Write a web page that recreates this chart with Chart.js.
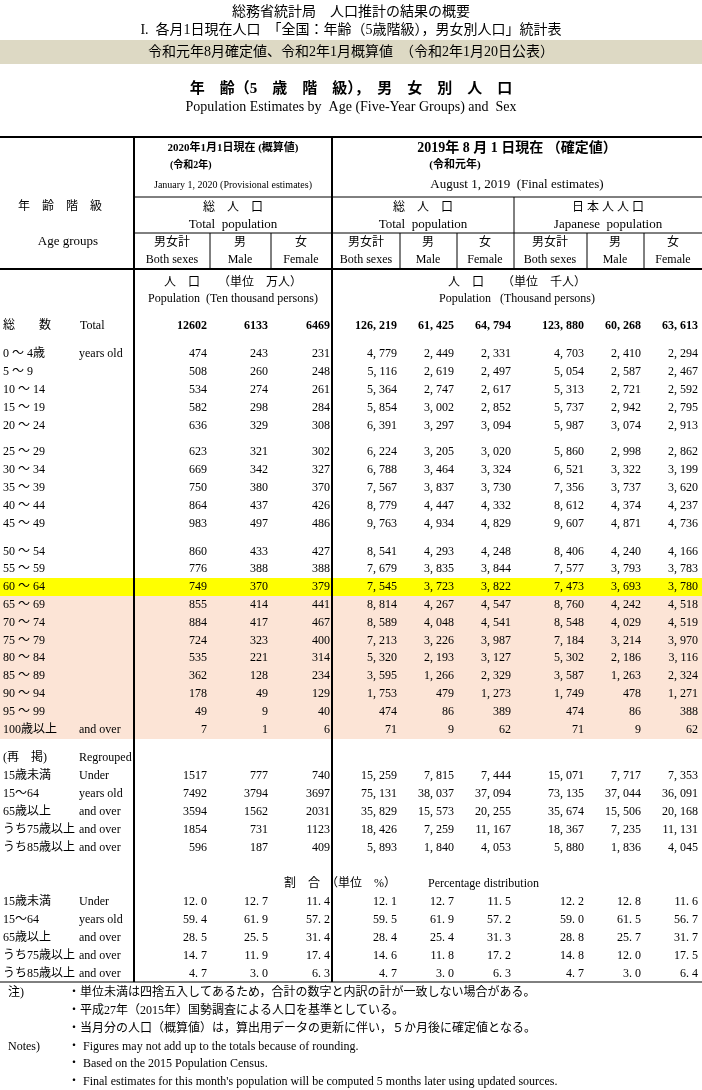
<!DOCTYPE html>
<html><head><meta charset="utf-8">
<script src="https://cdn.jsdelivr.net/npm/chart.js@4/dist/chart.umd.min.js"></script>
<style>html,body{margin:0;padding:0;background:#fff}canvas{display:block}</style>
</head><body><canvas id="c" width="702" height="1090"></canvas>
<script>
// ---- data ----
const rowLabelsJa = ["総　　数","0 ～ 4歳","5 ～ 9","10 ～ 14","15 ～ 19","20 ～ 24","25 ～ 29","30 ～ 34","35 ～ 39","40 ～ 44","45 ～ 49","50 ～ 54","55 ～ 59","60 ～ 64","65 ～ 69","70 ～ 74","75 ～ 79","80 ～ 84","85 ～ 89","90 ～ 94","95 ～ 99","100歳以上","15歳未満","15～64","65歳以上","うち75歳以上","うち85歳以上"];
const rowLabelsEn = ["Total","years old","","","","","","","","","","","","","","","","","","","","and over","Under","years old","and over","and over","and over"];
const p2020Both   = [12602,474,508,534,582,636,623,669,750,864,983,860,776,749,855,884,724,535,362,178,49,7,1517,7492,3594,1854,596];
const p2020Male   = [6133,243,260,274,298,329,321,342,380,437,497,433,388,370,414,417,323,221,128,49,9,1,777,3794,1562,731,187];
const p2020Female = [6469,231,248,261,284,308,302,327,370,426,486,427,388,379,441,467,400,314,234,129,40,6,740,3697,2031,1123,409];
const t2019Both   = [126219,4779,5116,5364,5854,6391,6224,6788,7567,8779,9763,8541,7679,7545,8814,8589,7213,5320,3595,1753,474,71,15259,75131,35829,18426,5893];
const t2019Male   = [61425,2449,2619,2747,3002,3297,3205,3464,3837,4447,4934,4293,3835,3723,4267,4048,3226,2193,1266,479,86,9,7815,38037,15573,7259,1840];
const t2019Female = [64794,2331,2497,2617,2852,3094,3020,3324,3730,4332,4829,4248,3844,3822,4547,4541,3987,3127,2329,1273,389,62,7444,37094,20255,11167,4053];
const j2019Both   = [123880,4703,5054,5313,5737,5987,5860,6521,7356,8612,9607,8406,7577,7473,8760,8548,7184,5302,3587,1749,474,71,15071,73135,35674,18367,5880];
const j2019Male   = [60268,2410,2587,2721,2942,3074,2998,3322,3737,4374,4871,4240,3793,3693,4242,4029,3214,2186,1263,478,86,9,7717,37044,15506,7235,1836];
const j2019Female = [63613,2294,2467,2592,2795,2913,2862,3199,3620,4237,4736,4166,3783,3780,4518,4519,3970,3116,2324,1271,388,62,7353,36091,20168,11131,4045];
const pctLabelsJa = ["15歳未満","15～64","65歳以上","うち75歳以上","うち85歳以上"];
const pctLabelsEn = ["Under","years old","and over","and over","and over"];
const pct2020Both=[12.0,59.4,28.5,14.7,4.7], pct2020Male=[12.7,61.9,25.5,11.9,3.0], pct2020Female=[11.4,57.2,31.4,17.4,6.3];
const pctT19Both=[12.1,59.5,28.4,14.6,4.7], pctT19Male=[12.7,61.9,25.4,11.8,3.0], pctT19Female=[11.5,57.2,31.3,17.2,6.3];
const pctJ19Both=[12.2,59.0,28.8,14.8,4.7], pctJ19Male=[12.8,61.5,25.7,12.0,3.0], pctJ19Female=[11.6,56.7,31.7,17.5,6.4];

// ---- layout ----
const colRight=[207,268,330,397,454,511,584,641,698];
const rowY=[326,354,372,390,408,426,452,470,488,506,524,552,569,587,605,623,641,658,676,694,712,730,776,794,812,830,848];
const pctY=[902,920,938,956,974];
const cols=[p2020Both,p2020Male,p2020Female,t2019Both,t2019Male,t2019Female,j2019Both,j2019Male,j2019Female];
const pcols=[pct2020Both,pct2020Male,pct2020Female,pctT19Both,pctT19Male,pctT19Female,pctJ19Both,pctJ19Male,pctJ19Female];
const fmt=(v,ci)=>ci<3?String(v):v.toLocaleString('en-US').replace(/,/g,', ');
const SERIF='"Liberation Serif","Noto Sans CJK JP",serif';

const datasets=cols.map((arr,ci)=>({data:arr.map((v,ri)=>({x:colRight[ci],y:rowY[ri],v:fmt(v,ci),b:ri===0})),pointRadius:0}))
 .concat(pcols.map((arr,ci)=>({data:arr.map((v,ri)=>({x:colRight[ci],y:pctY[ri],v:v.toFixed(1).replace('.','. ')})),pointRadius:0})));

const tablePlugin={id:'table',
 beforeDatasetsDraw(ch){
  const c=ch.ctx,X=ch.scales.x,Y=ch.scales.y;
  const px=v=>X.getPixelForValue(v),py=v=>Y.getPixelForValue(v);
  const rect=(x0,y0,x1,y1,col)=>{c.fillStyle=col;c.fillRect(px(x0),py(y0),px(x1)-px(x0),py(y1)-py(y0));};
  rect(0,40,702,64,'#ddd9c4');
  rect(0,578,702,596,'#ffff00');
  rect(0,596,702,739,'#fce4d6');
 },
 afterDatasetsDraw(ch){
  const c=ch.ctx,X=ch.scales.x,Y=ch.scales.y;
  const px=v=>X.getPixelForValue(v),py=v=>Y.getPixelForValue(v);
  const t=(s,x,y,size,align,bold,font)=>{c.fillStyle='#000';c.font=(bold?'bold ':'')+size+'px '+(font||SERIF);c.textAlign=align||'left';c.textBaseline='middle';c.fillText(s,px(x),py(y));};
  const line=(x0,y0,x1,y1,w)=>{c.strokeStyle='#000';c.lineWidth=w;c.beginPath();c.moveTo(px(x0),py(y0));c.lineTo(px(x1),py(y1));c.stroke();};
  line(0,137,702,137,2); line(0,269,702,269,2);
  line(134,137,134,982,2); line(332,137,332,982,2);
  line(134,197,702,197,1); line(134,233,702,233,1);
  line(514,197,514,269,1);
  [210,271,400,457,587,644].forEach(x=>line(x,233,x,269,1));
  line(0,982,702,982,1);
  // titles
  t('総務省統計局　人口推計の結果の概要',351,12,14,'center');
  t('I.  各月1日現在人口　「全国：年齢（5歳階級），男女別人口」統計表',351,30,14,'center');
  t('令和元年8月確定値、令和2年1月概算値　（令和2年1月20日公表）',351,52,14,'center');
  t('年　齢（5　歳　階　級），　男　女　別　人　口',351,89,15,'center',true);
  t('Population Estimates by  Age (Five-Year Groups) and  Sex',351,107,14,'center');
  t('2020年1月1日現在 (概算値)',233,148,11,'center',true);
  t('(令和2年)',170,165,10,'left',true);
  t('January 1, 2020 (Provisional estimates)',233,185,10,'center');
  t('2019年 8 月 1 日現在 （確定値）',517,148,14,'center',true);
  t('(令和元年)',455,165,11,'center',true);
  t('August 1, 2019  (Final estimates)',517,185,13,'center');
  t('年　齢　階　級',60,207,12,'center');
  t('Age groups',68,242,13,'center');
  t('総　人　口',233,208,12,'center');t('Total  population',233,225,13,'center');
  t('総　人　口',423,208,12,'center');t('Total  population',423,225,13,'center');
  t('日 本 人 人 口',608,208,12,'center');t('Japanese  population',608,225,13,'center');
  const subX=[172,240,301,366,428,485,550,615,673];
  const ja=['男女計','男','女'],en=['Both sexes','Male','Female'];
  subX.forEach((x,i)=>{t(ja[i%3],x,243,12,'center');t(en[i%3],x,260,12,'center');});
  t('人　口　　（単位　万人）',233,283,12,'center');
  t('Population  (Ten thousand persons)',233,299,12,'center');
  t('人　口　　（単位　千人）',517,283,12,'center');
  t('Population   (Thousand persons)',517,299,12,'center');
  rowLabelsJa.forEach((s,i)=>{t(s,3,rowY[i],12,'left');if(rowLabelsEn[i])t(rowLabelsEn[i],i===0?80:79,rowY[i],12,'left');});
  t('(再　掲)',3,758,12,'left');t('Regrouped',79,758,12,'left');
  t('割　合　（単位　%）',340,884,12,'center');
  t('Percentage distribution',428,884,12,'left');
  pctLabelsJa.forEach((s,i)=>{t(s,3,pctY[i],12,'left');t(pctLabelsEn[i],79,pctY[i],12,'left');});
  ch.data.datasets.forEach((ds,di)=>{
   const meta=ch.getDatasetMeta(di);
   meta.data.forEach((el,j)=>{const d=ds.data[j];c.fillStyle='#000';c.font=(d.b?'bold ':'')+'12px '+SERIF;c.textAlign='right';c.textBaseline='middle';c.fillText(d.v,el.x,el.y);});
  });
  t('注)',8,993,12,'left');
  t('・単位未満は四捨五入してあるため，合計の数字と内訳の計が一致しない場合がある。',68,993,12,'left');
  t('・平成27年（2015年）国勢調査による人口を基準としている。',68,1011,12,'left');
  t('・当月分の人口（概算値）は，算出用データの更新に伴い，５か月後に確定値となる。',68,1029,12,'left');
  t('Notes)',8,1047,12,'left');
  t('・ Figures may not add up to the totals because of rounding.',68,1047,12,'left');
  t('・ Based on the 2015 Population Census.',68,1064,12,'left');
  t('・ Final estimates for this month\'s population will be computed 5 months later using updated sources.',68,1082,12,'left');
 }};

new Chart(document.getElementById('c'),{type:'scatter',data:{datasets},
 options:{responsive:false,animation:false,events:[],layout:{padding:0},
  plugins:{legend:{display:false},tooltip:{enabled:false}},
  scales:{x:{type:'linear',min:0,max:702,display:false},y:{type:'linear',min:0,max:1090,reverse:true,display:false}}},
 plugins:[tablePlugin]});
</script></body></html>
